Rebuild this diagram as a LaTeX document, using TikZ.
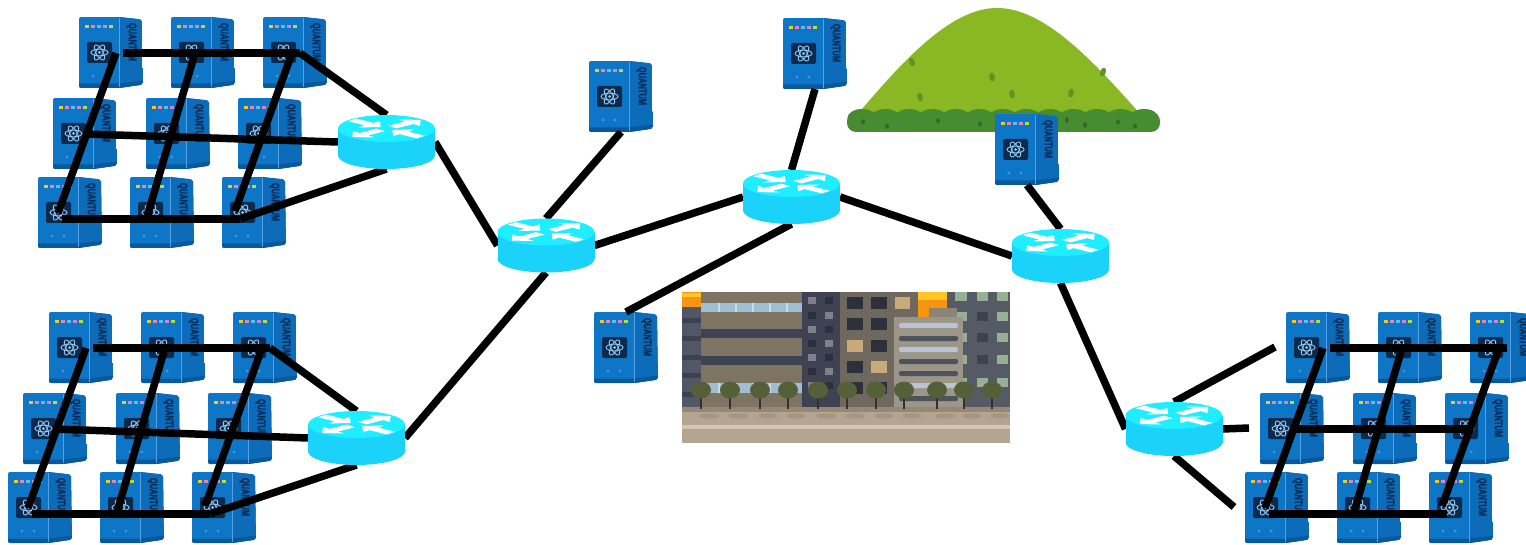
\documentclass[tikz,border=0pt]{standalone}
\usepackage{graphicx}
\usepackage{fontspec}
\newfontfamily\qfont{Liberation Sans Bold}[FakeBold=1.6]
\usetikzlibrary{calc}

% computer colours
\definecolor{qfront}{RGB}{14,118,198}
\definecolor{qside}{RGB}{12,108,186}
\definecolor{qbase}{RGB}{8,88,158}
\definecolor{qedge}{RGB}{88,160,226}
\definecolor{qpanel}{RGB}{12,42,78}
\definecolor{qorbit}{RGB}{150,196,236}
\definecolor{qtext}{RGB}{8,44,88}
\definecolor{qled}{RGB}{70,145,215}
\definecolor{dotA}{RGB}{250,200,20}
\definecolor{dotB}{RGB}{240,130,170}
\definecolor{dotC}{RGB}{90,190,240}
\definecolor{dotD}{RGB}{220,130,190}
\definecolor{dotE}{RGB}{190,220,40}
% router colours
\definecolor{rtop}{RGB}{30,238,255}
\definecolor{rside}{RGB}{26,210,250}
% hill colours
\definecolor{mtn}{RGB}{138,184,36}
\definecolor{mtnspot}{RGB}{96,146,40}
\definecolor{bush}{RGB}{72,140,50}
\definecolor{bushspot}{RGB}{52,108,36}
% town colours
\definecolor{orangeA}{RGB}{246,150,16}
\definecolor{yellowA}{RGB}{255,198,36}
\definecolor{bldSlate}{RGB}{82,87,102}
\definecolor{bldSlateD}{RGB}{62,66,80}
\definecolor{bldBrown}{RGB}{125,116,100}
\definecolor{winBlue}{RGB}{160,190,210}
\definecolor{winLight}{RGB}{200,220,232}
\definecolor{bandDark}{RGB}{62,67,82}
\definecolor{towerDark}{RGB}{62,66,82}
\definecolor{winGrey}{RGB}{128,128,140}
\definecolor{winDark}{RGB}{44,47,60}
\definecolor{bldMid}{RGB}{110,104,95}
\definecolor{winBeige}{RGB}{200,170,122}
\definecolor{bldRight}{RGB}{85,90,100}
\definecolor{winGreen}{RGB}{150,176,150}
\definecolor{bldLight}{RGB}{155,150,135}
\definecolor{bldLight2}{RGB}{138,132,118}
\definecolor{stripeL}{RGB}{186,196,210}
\definecolor{stripeD}{RGB}{78,82,92}
\definecolor{ground}{RGB}{180,165,145}
\definecolor{groundD}{RGB}{150,136,118}
\definecolor{groundL}{RGB}{212,198,182}
\definecolor{groundS}{RGB}{165,150,130}
\definecolor{leaf}{RGB}{86,96,56}
\definecolor{trunk}{RGB}{60,45,45}

\tikzset{
  qnode/.style={minimum width=64pt,minimum height=71pt,inner sep=0pt,outer sep=0pt,anchor=north west},
  rnode/.style={minimum width=97pt,minimum height=54pt,inner sep=0pt,outer sep=0pt},
  link/.style={line width=7.5pt,line cap=butt,black},
  % quantum computer cabinet, origin at its top left corner
  qpc/.pic={
    \begin{scope}
      \clip[rounded corners=2pt] (0,0) -- (40,0) -- (63,2.5) -- (64,67.5) -- (40,71) -- (0,71) -- cycle;
      \fill[qfront] (0,0) rectangle (64,71);
      \fill[qside] (40,0) rectangle (64,71);
      \fill[qbase] (0,66.5) -- (40,66.5) -- (64,63.5) -- (64,72) -- (0,72) -- cycle;
    \end{scope}
    \draw[qedge,line width=0.9pt] (40,1) -- (40,70);
    \foreach \c [count=\i] in {dotA,dotB,dotC,dotD,dotE}
      \fill[\c] ({6*\i},8) rectangle ++(3.6,3);
    \fill[qpanel,rounded corners=2pt] (8,25) rectangle (33,46);
    \begin{scope}[shift={(20.5,35.5)}]
      \foreach \a in {0,60,120}
        \draw[qorbit,line width=0.9pt,rotate=\a] (0,0) ellipse[x radius=8.5,y radius=3.4];
      \fill[qorbit] (0,0) circle[radius=1.5];
    \end{scope}
    \fill[qled] (14,59) circle[radius=1.6] (26,59) circle[radius=1.6];
    \node[qtext,rotate=-90,inner sep=0pt] at (52.5,25)
      {\qfont\fontsize{11}{11}\selectfont\scalebox{0.68}[1]{QUANTUM}};
  },
  % router cylinder, origin at the centre of its top face
  router/.pic={
    \fill[rside] (-48.5,0) rectangle (48.5,27);
    \fill[rside] (0,27) ellipse[x radius=48.5,y radius=13.5];
    \fill[rtop] (0,0) ellipse[x radius=48.5,y radius=13.5];
    \begin{scope}[xscale=48.5,yscale=13.5]
      \foreach \a/\t/\p in {42/0.16/0.95,222/0.16/0.95,318/-0.95/-0.16,138/-0.95/-0.16}
        \fill[white,rotate=\a] (\t,-0.13) -- ({\p-0.32},-0.13) -- ({\p-0.32},-0.33) -- (\p,0)
          -- ({\p-0.32},0.33) -- ({\p-0.32},0.13) -- (\t,0.13) -- cycle;
    \end{scope}
  },
}

% a 3x3 block of computers with its mesh of links
\newcommand\qcluster[3]{%
  \begin{scope}[shift={(#2,#3)}]
    \foreach \px/\py [count=\k] in {79/17,171/17,263/17,53/98,146/98,238/98,38/177,130/177,222/177}{
      \node[qnode] (#1q\k) at (\px,\py) {};
      \pic at (\px,\py) {qpc};
    }
    \coordinate (#1a1) at (116,53);
    \coordinate (#1a1h) at (123,53);
    \coordinate (#1a2) at (195,53);
    \coordinate (#1a3s) at (292,53);
    \coordinate (#1a3) at (300,53);
    \coordinate (#1b1) at (84,134);
    \coordinate (#1b3) at (261,134);
    \coordinate (#1c1) at (58,213);
    \coordinate (#1c1h) at (62,219);
    \coordinate (#1c2) at (147,217);
    \coordinate (#1c3) at (235,211);
    \coordinate (#1c3h) at (240,219);
    \draw[link] (#1a1h) -- (#1a3);
    \draw[link] (#1c1h) -- (#1c3h);
    \draw[link] (#1a1) -- (#1c1);
    \draw[link] (#1a2) -- (#1c2);
    \draw[link] (#1a3s) -- (#1c3);
  \end{scope}
}

\begin{document}
\begin{tikzpicture}[x=1pt,y=-1pt]
\useasboundingbox (0,0) rectangle (1526,545);

% hill
\fill[mtn] (856,116) .. controls (902,62) and (950,8) .. (997,8)
  .. controls (1045,8) and (1094,62) .. (1142,116) -- cycle;
\foreach \x/\y/\r in {912/62/20,992/77/10,920/97/15,1012/94/10,1071/93/-10,1103/72/-20}
  \fill[mtnspot,rotate around={\r:(\x,\y)}] (\x,\y) ellipse[x radius=2.8,y radius=4.5];
\fill[bush,rounded corners=9pt] (847,112) rectangle (1160,132);
\foreach \i in {0,...,12}
  \fill[bush] ({862+\i*23.5},118) ellipse[x radius=14.5,y radius=9];
\foreach \x/\y in {863/122,887/126,938/121,980/124,1015/120,1067/120,1085/125,1118/122,1135/126}
  \fill[bushspot] (\x,\y) ellipse[x radius=2,y radius=2.8];

% town block
\begin{scope}
  \clip (682,292) rectangle (1010,443);
  \fill[bldBrown] (682,292) rectangle (1010,443);
  % left slate strip
  \fill[bldSlate] (682,292) rectangle (701,407);
  \foreach \y in {318,336,355,373,392}
    \fill[bldSlateD] (682,\y) rectangle (701,{\y+5});
  \fill[orangeA] (682,292) rectangle (701,307);
  \fill[yellowA] (682,293) rectangle (701,297);
  % long low building
  \fill[bldBrown] (701,292) rectangle (802,407);
  \fill[winBlue] (701,303) rectangle (802,312);
  \fill[bandDark] (701,329) rectangle (802,338);
  \fill[bandDark] (701,356) rectangle (802,365);
  \fill[winBlue] (701,383) rectangle (802,393);
  \foreach \x in {718,735,752,769,786}{
    \fill[winLight] (\x,303) rectangle ({\x+1.5},312);
    \fill[winLight] (\x,383) rectangle ({\x+1.5},393);
  }
  % dark tower
  \fill[towerDark] (802,292) rectangle (840,407);
  \foreach \y [count=\j] in {297,312,326,340,354,368,382}{
    \pgfmathsetmacro\ca{mod(\j,2)==1 ? 1 : 0}
    \ifdim\ca pt>0pt
      \fill[winGrey] (808,\y) rectangle (816,{\y+7});
      \fill[winDark] (825,\y) rectangle (833,{\y+7});
    \else
      \fill[winDark] (808,\y) rectangle (816,{\y+7});
      \fill[winGrey] (825,\y) rectangle (833,{\y+7});
    \fi
  }
  % middle building
  \fill[bldMid] (840,292) rectangle (918,407);
  \foreach \y in {297,318,340,361,382}{
    \fill[winDark] (847,\y) rectangle (863,{\y+12});
    \fill[winDark] (871,\y) rectangle (887,{\y+12});
  }
  \fill[winBeige] (895,297) rectangle (910,309);
  \fill[winBeige] (847,340) rectangle (863,352);
  \fill[winBeige] (871,361) rectangle (887,373);
  % sky gap
  \fill[orangeA] (918,292) rectangle (947,317);
  \fill[yellowA] (918,292) rectangle (947,300);
  % right building
  \fill[bldRight] (947,292) rectangle (1010,407);
  \foreach \y in {292,312,333,355,378}{
    \fill[winGreen] (955,\y) rectangle (967,{\y+9});
    \fill[winGreen] (997,\y) rectangle (1008,{\y+9});
  }
  \foreach \y in {292,378}
    \fill[winGreen] (977,\y) rectangle (988,{\y+9});
  \foreach \y in {312,333,355}
    \fill[bldSlateD] (977,\y) rectangle (988,{\y+9});
  % pale building with strip windows
  \fill[bldLight2] (929,308) rectangle (957,318);
  \fill[bldLight] (894,317) rectangle (963,407);
  \foreach \y/\c in {323/stripeL,336/stripeD,347/stripeL,359/stripeD,371/stripeD,383/stripeL,396/stripeD}
    \fill[\c,rounded corners=2pt] (899,\y) rectangle (958,{\y+5});
  % pavement
  \fill[ground] (682,407) rectangle (1010,443);
  \fill[groundD] (682,407) rectangle (1010,412);
  \fill[groundL] (682,425) rectangle (1010,429);
  % street trees
  \foreach \x in {701,730,760,788,818,847,876,904,937,964,992}{
    \fill[groundS] ({\x+8},416) ellipse[x radius=10,y radius=2.5];
    \fill[trunk] ({\x-1.3},392) rectangle ({\x+1.3},409);
    \fill[leaf] (\x,390) ellipse[x radius=10,y radius=8.5];
  }
\end{scope}

% three computer blocks
\qcluster{tl}{0}{0}
\qcluster{bl}{-30}{295}
\qcluster{br}{1207}{295}
\draw[link] (brb1) -- (brb3);

% single computers
\node[qnode] (qa) at (589,61) {};   \pic at (589,61) {qpc};
\node[qnode] (qb) at (783,18) {};   \pic at (783,18) {qpc};
\node[qnode] (qc) at (995,114) {};  \pic at (995,114) {qpc};
\node[qnode] (qd) at (594,312) {};  \pic at (594,312) {qpc};

% routers
\node[rnode] (r1) at (386.5,142) {};
\node[rnode] (r2) at (356.5,438) {};
\node[rnode] (r3) at (546,245.5) {};
\node[rnode] (r4) at (791.5,197) {};
\node[rnode] (r5) at (1060.5,256) {};
\node[rnode] (r6) at (1174,429) {};
\coordinate (r6n) at (1275,347);
\coordinate (r6e) at (1249,428);
\coordinate (r6s) at (1234,507);

% links
\draw[link] (tla3) -- (r1.north);
\draw[link] (tlb1) -- (r1.west);
\draw[link] (tlc3h) -- (r1.south);
\draw[link] (bla3) -- (r2.north);
\draw[link] (blb1) -- (r2.west);
\draw[link] (blc3h) -- (r2.south);
\draw[link] (r1.east) -- (r3.west);
\draw[link] (r2.east) -- (r3.south);
\draw[link] (r3.north) -- (qa.south);
\draw[link] (r3.east) -- (r4.west);
\draw[link] (r4.north) -- (qb.south);
\draw[link] (r4.south) -- (qd.north);
\draw[link] (r4.east) -- (r5.west);
\draw[link] (r5.north) -- (qc.south);
\draw[link] (r5.south) -- (r6.west);
\draw[link] (r6.north) -- (r6n);
\draw[link] (r6.east) -- (r6e);
\draw[link] (r6.south) -- (r6s);

\foreach \r in {r1,r2,r3,r4,r5,r6}
  \pic at ($(\r.north)+(0,13.5)$) {router};
\end{tikzpicture}
\end{document}
